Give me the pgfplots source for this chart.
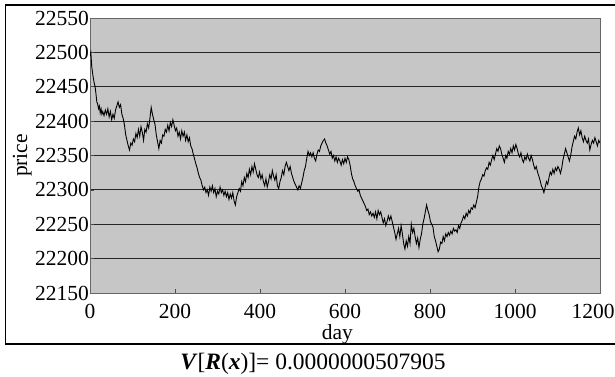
\documentclass[border=0pt]{standalone}
\usepackage{fontspec}
\setmainfont{Liberation Serif}
\usepackage{pgfplots}
\pgfplotsset{compat=1.18}
\usepackage{pgfplotstable}

% daily closing price
\pgfplotstableread{
day price
0 22495
2 22500
4 22480
6 22470
8 22462
10 22455
12 22450
14 22440
16 22428
18 22425
20 22418
22 22422
24 22412
26 22418
28 22410
30 22414
33 22408
36 22416
39 22410
42 22418
45 22406
48 22414
51 22402
54 22410
57 22404
60 22416
63 22422
66 22428
69 22420
72 22424
75 22410
78 22404
81 22395
84 22380
87 22372
90 22364
93 22358
96 22368
99 22365
102 22374
105 22370
108 22382
111 22376
114 22388
117 22378
120 22392
123 22384
126 22372
129 22388
132 22384
135 22396
138 22390
141 22404
144 22420
147 22410
150 22402
153 22395
156 22380
159 22370
162 22360
165 22372
168 22368
171 22380
174 22378
177 22388
180 22384
183 22394
186 22386
189 22398
192 22392
195 22402
198 22394
201 22386
204 22390
207 22378
210 22384
213 22374
216 22386
219 22378
222 22384
225 22372
228 22380
231 22370
234 22376
237 22364
240 22360
243 22352
246 22345
249 22338
252 22332
255 22324
258 22318
261 22314
264 22306
267 22300
270 22304
273 22296
276 22300
279 22292
282 22304
285 22298
288 22306
291 22296
294 22302
297 22290
300 22298
303 22294
306 22304
309 22296
312 22300
315 22292
318 22298
321 22290
324 22296
327 22286
330 22294
333 22288
336 22296
339 22284
342 22278
345 22290
348 22296
351 22302
354 22298
357 22312
360 22306
363 22318
366 22312
369 22324
372 22318
375 22330
378 22322
381 22334
384 22326
387 22338
390 22330
393 22322
396 22318
399 22326
402 22316
405 22322
408 22312
411 22306
414 22316
417 22304
420 22312
423 22322
426 22316
429 22328
432 22320
435 22314
438 22322
441 22306
444 22302
447 22312
450 22318
453 22328
456 22322
459 22334
462 22340
465 22334
468 22328
471 22334
474 22324
477 22318
480 22312
483 22308
486 22304
489 22300
492 22306
495 22302
498 22310
501 22318
504 22328
507 22334
510 22346
513 22356
516 22350
519 22354
522 22348
525 22354
528 22346
531 22342
534 22352
537 22358
540 22356
543 22364
546 22368
549 22372
552 22374
555 22368
558 22364
561 22358
564 22352
567 22356
570 22346
573 22350
576 22342
579 22348
582 22340
585 22346
588 22342
591 22336
594 22344
597 22338
600 22346
603 22340
606 22348
609 22344
612 22336
615 22324
618 22316
621 22312
624 22306
627 22302
630 22298
633 22300
636 22292
639 22288
642 22284
645 22280
648 22276
651 22270
654 22272
657 22264
660 22268
663 22262
666 22266
669 22260
672 22268
675 22258
678 22270
681 22264
684 22268
687 22260
690 22252
693 22258
696 22248
699 22254
702 22262
705 22256
708 22262
711 22254
714 22246
717 22238
720 22228
723 22236
726 22244
729 22232
732 22248
735 22236
738 22222
741 22214
744 22226
747 22218
750 22232
753 22222
756 22250
759 22238
762 22244
765 22232
768 22222
771 22230
774 22216
777 22228
780 22236
783 22250
786 22258
789 22268
792 22278
795 22270
798 22264
801 22254
804 22250
807 22246
810 22232
813 22226
816 22218
819 22210
822 22214
825 22224
828 22222
831 22232
834 22226
837 22236
840 22232
843 22238
846 22234
849 22240
852 22236
855 22244
858 22240
861 22242
864 22238
867 22248
870 22244
873 22252
876 22256
879 22262
882 22258
885 22266
888 22262
891 22270
894 22266
897 22274
900 22272
903 22278
906 22274
909 22282
912 22290
915 22304
918 22312
921 22316
924 22322
927 22320
930 22328
933 22332
936 22330
939 22340
942 22336
945 22344
948 22350
951 22344
954 22352
957 22360
960 22356
963 22364
966 22360
969 22352
972 22346
975 22340
978 22350
981 22346
984 22356
987 22352
990 22360
993 22354
996 22364
999 22358
1002 22366
1005 22360
1008 22352
1011 22348
1014 22354
1017 22344
1020 22340
1023 22348
1026 22344
1029 22352
1032 22346
1035 22342
1038 22350
1041 22344
1044 22336
1047 22330
1050 22334
1053 22326
1056 22320
1059 22314
1062 22306
1065 22302
1068 22296
1071 22304
1074 22312
1077 22308
1080 22318
1083 22326
1086 22322
1089 22330
1092 22324
1095 22332
1098 22328
1101 22334
1104 22330
1107 22324
1110 22332
1113 22344
1116 22352
1119 22360
1122 22354
1125 22348
1128 22342
1131 22350
1134 22362
1137 22370
1140 22378
1143 22374
1146 22384
1149 22390
1152 22380
1155 22386
1158 22376
1161 22370
1164 22378
1167 22372
1170 22368
1173 22374
1176 22358
1179 22366
1182 22372
1185 22368
1188 22376
1191 22370
1194 22364
1197 22372
1200 22368
}\pricedata

\definecolor{plotbg}{RGB}{198,198,198}
\newcommand{\chartfont}{\fontsize{21.5}{24}\selectfont}

\begin{document}
\begin{tikzpicture}
\useasboundingbox (0pt,0pt) rectangle (615pt,377pt);
% outer frame
\draw[line width=1.3pt] (615pt,372pt) -- (5.5pt,372pt) -- (5.5pt,33pt) -- (615pt,33pt);
\begin{axis}[
  at={(90pt,84pt)}, anchor=south west,
  scale only axis, width=510pt, height=275pt,
  xmin=0, xmax=1200, ymin=22150, ymax=22550,
  xtick={0,200,...,1200},
  xticklabels={0,200,400,600,800,1000,\hspace*{-14pt}1200},
  ytick={22150,22200,...,22550},
  xtick pos=bottom, ytick pos=left,
  tick align=inside, major tick length=4pt,
  tick style={black!70, line width=0.6pt},
  axis line style={black!60, line width=0.8pt},
  axis background/.style={fill=plotbg},
  ymajorgrids,
  grid style={black!85, line width=0.8pt},
  /pgf/number format/assume math mode=true,
  /pgf/number format/1000 sep={},
  scaled y ticks=false,
  ticklabel style={font=\chartfont},
  yticklabel style={inner xsep=1pt},
  xticklabel style={inner ysep=1pt, yshift=-10pt},
  label style={font=\chartfont},
  xlabel={day},
  xlabel style={at={(axis description cs:0.485,-0.15)}, anchor=center, inner sep=1pt},
  ylabel={price},
  ylabel style={at={(axis description cs:-0.133,0.5)}, anchor=center},
]
\addplot[black, line width=0.9pt] table[x=day, y=price] {\pricedata};
\end{axis}
\node[font=\fontsize{23.5}{26}\selectfont] at (313pt,13pt) {\textbf{\textit{V}}[\textbf{\textit{R}}(\textbf{\textit{x}})]= 0.0000000507905};
\end{tikzpicture}
\end{document}
